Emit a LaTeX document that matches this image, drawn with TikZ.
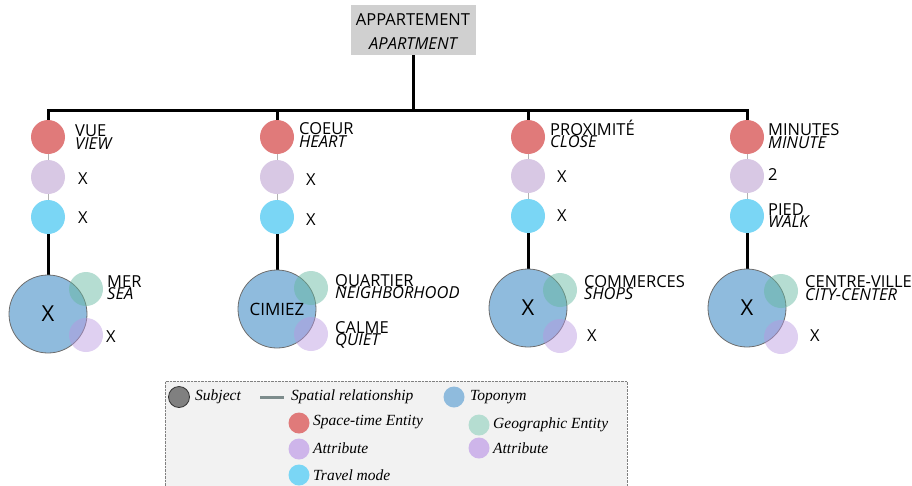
\documentclass[tikz,border=0pt]{standalone}
\usepackage{fontspec}
\setmainfont{Open Sans}
\newfontfamily\legfont{Liberation Serif}
\usetikzlibrary{backgrounds}
\definecolor{redc}{RGB}{224,122,122}
\definecolor{attrc}{RGB}{216,200,228}
\definecolor{travc}{RGB}{122,214,245}
\definecolor{topoc}{RGB}{143,187,221}
\definecolor{topob}{RGB}{110,110,110}
\definecolor{geoc}{RGB}{100,184,160}
\definecolor{attrtwo}{RGB}{185,150,225}
\definecolor{titlec}{RGB}{208,208,208}
\definecolor{legbg}{RGB}{242,242,242}
\definecolor{legline}{RGB}{125,140,140}
\tikzset{
  ent/.style={circle,fill=redc,minimum size=34pt,inner sep=0pt},
  attr/.style={circle,fill=attrc,minimum size=34pt,inner sep=0pt},
  trav/.style={circle,fill=travc,minimum size=34pt,inner sep=0pt},
  topo/.style={circle,fill=topoc,draw=topob,line width=0.8pt,minimum size=78pt,inner sep=0pt},
  geo/.style={circle,fill=geoc,fill opacity=0.48,minimum size=34pt,inner sep=0pt},
  attrb/.style={circle,fill=attrtwo,fill opacity=0.45,minimum size=34pt,inner sep=0pt},
  conn/.style={line width=3pt,black},
  thin/.style={line width=0.8pt,black!30},
  lbl/.style={anchor=base west,inner sep=0pt,font=\fontsize{16.5}{16.5}\selectfont},
  ilbl/.style={anchor=base west,inner sep=0pt,font=\fontsize{16.5}{16.5}\selectfont\itshape},
  legtxt/.style={anchor=west,inner sep=0pt,font=\legfont\fontsize{15.5}{15.5}\selectfont\itshape},
  legdot/.style={circle,minimum size=21pt,inner sep=0pt},
}
\begin{document}
\begin{tikzpicture}[x=1pt,y=-1pt]
\useasboundingbox (0,0) rectangle (912,485);
% title
\node[fill=titlec,minimum width=125pt,minimum height=50pt,inner sep=0pt] (title) at (413,30) {};
\node[inner sep=0pt,font=\fontsize{16.5}{16.5}\selectfont] (t1) at (413,20) {APPARTEMENT};
\node[inner sep=0pt,font=\fontsize{16.5}{16.5}\selectfont\itshape] (t2) at (413,44) {APARTMENT};
\coordinate (ct) at (413,110);
\coordinate (c1) at (48,110);
\coordinate (c2) at (277,110);
\coordinate (c3) at (528,110);
\coordinate (c4) at (747,110);
% column 1
\node[ent] (r1) at (48,137) {};
\node[attr] (a1) at (48,177) {};
\node[trav] (v1) at (48,217) {};
\node[topo,font=\fontsize{22}{22}\selectfont] (p1) at (48,314) {X};
\node[geo] (g1) at (86,289) {};
\node[attrb] (b1) at (86,335) {};
\node[lbl] (l1a) at (75,136) {VUE};
\node[ilbl] (l1b) at (75,149) {VIEW};
\node[lbl] (l1c) at (78,184) {X};
\node[lbl] (l1d) at (78,223) {X};
\node[lbl] (l1e) at (107,287) {MER};
\node[ilbl] (l1f) at (107,299) {SEA};
\node[lbl] (l1g) at (106,342) {X};
% column 2
\node[ent] (r2) at (277,137) {};
\node[attr] (a2) at (277,177) {};
\node[trav] (v2) at (277,217) {};
\node[topo,font=\fontsize{17}{17}\selectfont] (p2) at (277,309) {CIMIEZ};
\node[geo] (g2) at (311,288) {};
\node[attrb] (b2) at (311,334) {};
\node[lbl] (l2a) at (299,134) {COEUR};
\node[ilbl] (l2b) at (299,147) {HEART};
\node[lbl] (l2c) at (306,185) {X};
\node[lbl] (l2d) at (306,225) {X};
\node[lbl] (l2e) at (335,286) {QUARTIER};
\node[ilbl] (l2f) at (335,298) {NEIGHBORHOOD};
\node[lbl] (l2g) at (335,333) {CALME};
\node[ilbl] (l2h) at (335,345) {QUIET};
% column 3
\node[ent] (r3) at (528,137) {};
\node[attr] (a3) at (528,176) {};
\node[trav] (v3) at (528,216) {};
\node[topo,font=\fontsize{22}{22}\selectfont] (p3) at (528,308) {X};
\node[geo] (g3) at (560,290) {};
\node[attrb] (b3) at (560,336) {};
\node[lbl] (l3a) at (550,135) {PROXIMITÉ};
\node[ilbl] (l3b) at (550,147) {CLOSE};
\node[lbl] (l3c) at (557,182) {X};
\node[lbl] (l3d) at (557,221) {X};
\node[lbl] (l3e) at (584,287) {COMMERCES};
\node[ilbl] (l3f) at (584,299) {SHOPS};
\node[lbl] (l3g) at (587,341) {X};
% column 4
\node[ent] (r4) at (747,137) {};
\node[attr] (a4) at (747,176) {};
\node[trav] (v4) at (747,216) {};
\node[topo,font=\fontsize{22}{22}\selectfont] (p4) at (747,308) {X};
\node[geo] (g4) at (781,291) {};
\node[attrb] (b4) at (781,337) {};
\node[lbl] (l4a) at (768,135) {MINUTES};
\node[ilbl] (l4b) at (768,148) {MINUTE};
\node[lbl] (l4c) at (768,180) {2};
\node[lbl] (l4d) at (768,215) {PIED};
\node[ilbl] (l4e) at (768,227) {WALK};
\node[lbl] (l4f) at (805,287) {CENTRE-VILLE};
\node[ilbl] (l4g) at (805,300) {CITY-CENTER};
\node[lbl] (l4h) at (810,341) {X};
% connectors
\begin{scope}[on background layer]
\draw[conn] (title.south) -- (ct);
\draw[conn,line cap=rect] (c1) -- (c4);
\foreach \i in {1,2,3,4}{
  \draw[conn] (c\i) -- (r\i.north);
  \draw[thin] (r\i) -- (a\i) -- (v\i);
  \draw[conn] (v\i.south) -- (p\i.north);
}
\end{scope}
% legend
\node[draw=black!50,densely dotted,fill=legbg,minimum width=462pt,minimum height=110pt,inner sep=0pt,anchor=north west] (leg) at (165,381) {};
\node[legdot,fill=black!50,draw=black!80,line width=0.8pt] (d1) at (179,397) {};
\node[legtxt] (e1) at (195,397) {Subject};
\coordinate (s1) at (260,397);
\coordinate (s2) at (284,397);
\draw[line width=3pt,legline] (s1) -- (s2);
\node[legtxt] (e2) at (291,397) {Spatial relationship};
\node[legdot,fill=topoc] (d2) at (454,397) {};
\node[legtxt] (e3) at (470,397) {Toponym};
\node[legdot,fill=redc] (d3) at (299,423) {};
\node[legtxt] (e4) at (313,422) {Space-time Entity};
\node[legdot,fill=attrtwo!70] (d4) at (299,449) {};
\node[legtxt] (e5) at (313,448) {Attribute};
\node[legdot,fill=travc] (d5) at (299,475) {};
\node[legtxt] (e6) at (313,475) {Travel mode};
\node[legdot,fill=geoc!48] (d6) at (479,425) {};
\node[legtxt] (e7) at (493,425) {Geographic Entity};
\node[legdot,fill=attrtwo!70] (d7) at (479,448) {};
\node[legtxt] (e8) at (493,448) {Attribute};
\end{tikzpicture}
\end{document}
